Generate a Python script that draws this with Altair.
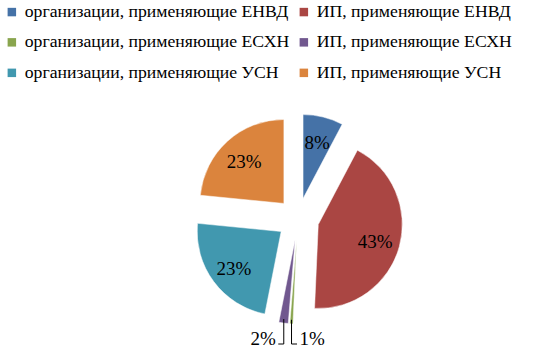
import altair as alt
import pandas as pd

categories = [
    "организации, применяющие ЕНВД",
    "ИП, применяющие ЕНВД",
    "организации, применяющие ЕСХН",
    "ИП, применяющие ЕСХН",
    "организации, применяющие УСН",
    "ИП, применяющие УСН",
]
values = [7.7, 42.9, 0.6, 1.8, 23.4, 23.4]
colors = ["#4572A7", "#AA4643", "#89A54E", "#71588F", "#4198AF", "#DB843D"]

df = pd.DataFrame({"category": categories, "value": values, "idx": list(range(len(values)))})

# legend is filled column by column: reorder so that rows read pairwise
leg_domain = categories[0::2] + categories[1::2]
leg_range = colors[0::2] + colors[1::2]

CX, CY, EXPLODE, R = 298, 219, 21, 84
FONT = "Liberation Serif"

base = alt.Chart(df).transform_joinaggregate(
    total="sum(value)"
).transform_window(
    cum="sum(value)", sort=[alt.SortField("idx")], frame=[None, 0]
).transform_calculate(
    start="(datum.cum - datum.value) / datum.total * 2 * PI",
    end="datum.cum / datum.total * 2 * PI",
    pct="datum.value / datum.total * 100",
).transform_calculate(
    mid="(datum.start + datum.end) / 2",
    label="format(round(datum.pct), 'd') + '%'",
).transform_calculate(
    cx=f"{CX} + {EXPLODE} * sin(datum.mid)",
    cy=f"{CY} - {EXPLODE} * cos(datum.mid)",
).transform_calculate(
    lx="datum.cx + 59 * sin(datum.mid)",
    ly="datum.cy - 59 * cos(datum.mid) + 2",
    ox=f"datum.cx + {R - 2} * sin(datum.mid)",
    oy=f"datum.cy - {R - 4} * cos(datum.mid)",
    side="datum.idx % 2 == 0 ? 1 : -1",
)

arcs = base.mark_arc(radius=R, stroke="white", strokeWidth=0.5).encode(
    theta=alt.Theta("start:Q", scale=None, stack=None),
    theta2="end:Q",
    x=alt.X("cx:Q", scale=None),
    y=alt.Y("cy:Q", scale=None),
    color=alt.Color(
        "category:N",
        scale=alt.Scale(domain=leg_domain, range=leg_range),
        legend=alt.Legend(
            title=None,
            orient="none",
            legendX=3,
            legendY=3,
            columns=2,
            symbolType="square",
            symbolSize=72,
            symbolStrokeWidth=0,
            labelFont=FONT,
            labelFontSize=17.7,
            labelColor="black",
            labelLimit=400,
            rowPadding=11.5,
            columnPadding=5,
            labelOffset=4,
        ),
    ),
)

big = base.transform_filter("datum.pct >= 5")
inner_labels = big.mark_text(font=FONT, fontSize=19, color="black").encode(
    x=alt.X("lx:Q", scale=None),
    y=alt.Y("ly:Q", scale=None),
    text="label:N",
)

small = base.transform_filter("datum.pct < 5").transform_calculate(
    ly2="344",
    tby="345",
    hx="datum.ox + 5.5 * datum.side",
    tx="datum.ox + 8 * datum.side",
)
vlines = small.mark_rule(color="black", strokeWidth=1).encode(
    x=alt.X("ox:Q", scale=None),
    y=alt.Y("oy:Q", scale=None),
    y2="ly2:Q",
)
hlines = small.mark_rule(color="black", strokeWidth=1).encode(
    x=alt.X("ox:Q", scale=None),
    x2="hx:Q",
    y=alt.Y("ly2:Q", scale=None),
)
out_right = small.transform_filter("datum.side > 0").mark_text(
    font=FONT, fontSize=19, color="black", align="left", baseline="alphabetic"
).encode(
    x=alt.X("tx:Q", scale=None),
    y=alt.Y("tby:Q", scale=None),
    text="label:N",
)
out_left = small.transform_filter("datum.side < 0").mark_text(
    font=FONT, fontSize=19, color="black", align="right", baseline="alphabetic"
).encode(
    x=alt.X("tx:Q", scale=None),
    y=alt.Y("tby:Q", scale=None),
    text="label:N",
)

chart = alt.layer(arcs, inner_labels, vlines, hlines, out_right, out_left).properties(
    width=545,
    height=351,
    padding=0,
    autosize=alt.AutoSizeParams(type="none"),
    background="white",
).configure_view(stroke=None)

chart.save("out.html", embed_options={"renderer": "svg", "actions": False})
